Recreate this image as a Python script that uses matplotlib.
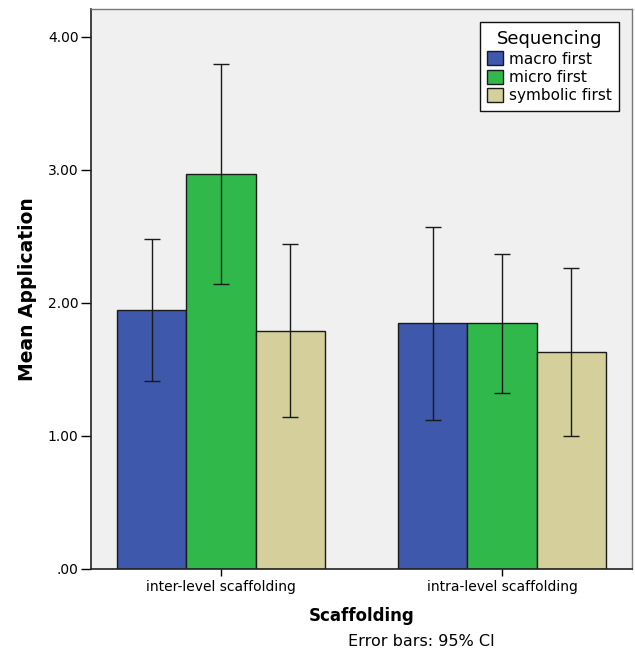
import matplotlib
matplotlib.use("Agg")
import matplotlib.pyplot as plt
import numpy as np

groups = ["inter-level scaffolding", "intra-level scaffolding"]
series = ["macro first", "micro first", "symbolic first"]
means = {
    "macro first": [1.95, 1.85],
    "micro first": [2.97, 1.85],
    "symbolic first": [1.79, 1.63],
}
ci_low = {
    "macro first": [1.41, 1.12],
    "micro first": [2.14, 1.32],
    "symbolic first": [1.14, 1.00],
}
ci_high = {
    "macro first": [2.48, 2.57],
    "micro first": [3.80, 2.37],
    "symbolic first": [2.44, 2.26],
}
colors = ["#3e58ac", "#30b94a", "#d5d09b"]
yticks = [0, 1, 2, 3, 4]
yticklabels = [".00", "1.00", "2.00", "3.00", "4.00"]

fig = plt.figure(figsize=(6.35, 6.51), dpi=100)
ax = fig.add_axes([91/635, 1-569/651, (632-91)/635, (569-9)/651])
ax.set_facecolor("#f0f0f0")

x = np.arange(len(groups))
w = 0.247
for i, s in enumerate(series):
    pos = x + (i - 1) * w
    m = np.array(means[s])
    lo = m - np.array(ci_low[s])
    hi = np.array(ci_high[s]) - m
    ax.bar(pos, m, width=w, color=colors[i], edgecolor="#1a1a1a", linewidth=1.0,
           label=s, zorder=2)
    ax.errorbar(pos, m, yerr=[lo, hi], fmt="none", ecolor="#1a1a1a",
                elinewidth=1.0, capsize=6, capthick=1.0, zorder=3)

ax.set_xlim(-0.463, 1.463)
ax.set_ylim(0, 4.21)
ax.set_yticks(yticks)
ax.set_yticklabels(yticklabels)
ax.set_xticks(x)
ax.set_xticklabels(groups)
ax.tick_params(axis="y", direction="out", length=7, width=1.0, labelsize=10, pad=2)
ax.tick_params(axis="x", direction="out", length=5, width=1.0, labelsize=10, pad=3)

for sp in ["left", "bottom"]:
    ax.spines[sp].set_color("#222222")
    ax.spines[sp].set_linewidth(1.2)
for sp in ["top", "right"]:
    ax.spines[sp].set_color("#777777")
    ax.spines[sp].set_linewidth(1.0)

ax.set_ylabel("Mean Application", fontsize=13.5, fontweight="bold", labelpad=8)
ax.set_xlabel("Scaffolding", fontsize=12, fontweight="bold", labelpad=9)
fig.text(421/635, 1-642/651, "Error bars: 95% CI", ha="center", va="center", fontsize=11.5)

leg = ax.legend(title="Sequencing", loc="upper right", bbox_to_anchor=(0.9765, 0.976),
                fontsize=11, title_fontsize=13, frameon=True, fancybox=False,
                edgecolor="#111111", handlelength=1.0, handleheight=1.0,
                handletextpad=0.4, labelspacing=0.22, borderpad=0.5,
                borderaxespad=0)
leg.get_frame().set_linewidth(1.0)
leg.get_frame().set_facecolor("white")
leg.get_frame().set_alpha(1)

fig.savefig("out.png", dpi=100)
